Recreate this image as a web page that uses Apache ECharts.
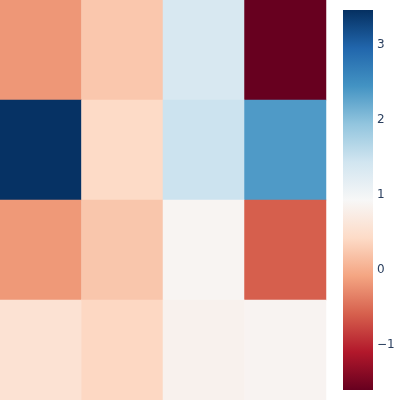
<!DOCTYPE html>
<html>
<head>
<meta charset="utf-8">
<script src="https://cdn.jsdelivr.net/npm/echarts@6/dist/echarts.min.js"></script>
<style>
  html, body { margin: 0; padding: 0; background: #fff; }
  #chart { width: 400px; height: 400px; }
</style>
</head>
<body>
<div id="chart"></div>
<script>
// grid values, top row first
const cols = ['0', '1', '2', '3']
const rows = ['0', '1', '2', '3']
const values = [
  [-0.18, 0.24, 1.35, -1.6],
  [3.45, 0.43, 1.48, 2.38],
  [-0.17, 0.23, 0.88, -0.59],
  [0.55, 0.40, 0.83, 0.87]
]
const colorTicks = [-1, 0, 1, 2, 3]
const vMin = -1.6
const vMax = 3.47

// RdBu, low = red
const rdbu = ['#67001f', '#b2182b', '#d6604d', '#f4a582', '#fddbc7', '#f7f7f7',
  '#d1e5f0', '#92c5de', '#4393c3', '#2166ac', '#053061']

const cells = []
values.forEach((row, r) => {
  row.forEach((v, c) => cells.push([c, r, v]))
})

// colorbar fill, bottom to top
const barFill = new echarts.graphic.LinearGradient(0, 1, 0, 0,
  rdbu.map((c, i) => ({ offset: i / (rdbu.length - 1), color: c })))

const chart = echarts.init(document.getElementById('chart'))

chart.setOption({
  animation: false,
  grid: [
    { left: 0, top: 0, width: 326, height: 400 },
    { left: 343, top: 10, width: 30, height: 380, show: true, borderWidth: 0, backgroundColor: barFill }
  ],
  xAxis: [
    { type: 'category', data: cols, gridIndex: 0, show: false },
    { type: 'value', gridIndex: 1, show: false, min: 0, max: 1 }
  ],
  yAxis: [
    { type: 'category', data: rows, gridIndex: 0, inverse: true, show: false },
    {
      type: 'value',
      gridIndex: 1,
      position: 'right',
      min: vMin,
      max: vMax,
      axisLine: { show: false },
      axisTick: { show: false },
      splitLine: { show: false },
      axisLabel: {
        customValues: colorTicks,
        margin: 4,
        color: '#2a3f5f',
        fontSize: 12,
        fontFamily: 'DejaVu Sans',
        formatter: v => String(v).replace('-', '\u2212')
      }
    }
  ],
  visualMap: {
    type: 'continuous',
    show: false,
    min: vMin,
    max: vMax,
    seriesIndex: 0,
    inRange: { color: rdbu }
  },
  series: [{
    type: 'heatmap',
    xAxisIndex: 0,
    yAxisIndex: 0,
    data: cells,
    itemStyle: { borderWidth: 0 },
    emphasis: { disabled: true }
  }]
})
</script>
</body>
</html>
